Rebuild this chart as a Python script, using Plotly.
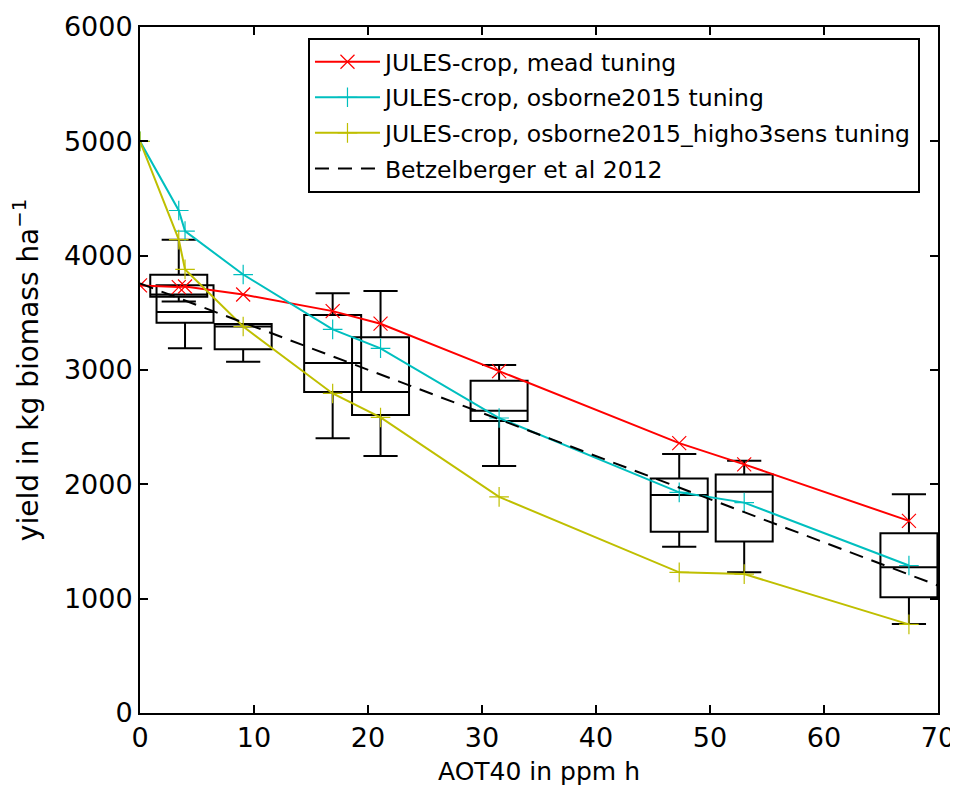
import plotly.graph_objects as go

# ---- data ----
model_x = [0, 3.4, 3.95, 9.05, 16.9, 21.1, 31.5, 47.3, 53.0, 67.45]
mead = [3740, 3725, 3730, 3660, 3515, 3405, 2990, 2360, 2175, 1680]
osborne = [5000, 4395, 4215, 3835, 3355, 3190, 2580, 1930, 1840, 1290]
higho3 = [5000, 4140, 3880, 3380, 2795, 2585, 1890, 1230, 1215, 775]

betz_x = [0, 70]
betz_y = [3757, 1115]

box_x = [3.4, 3.95, 9.05, 16.9, 21.1, 31.5, 47.3, 53.0, 67.45]
box_lf = [3600, 3190, 3073, 2403, 2248, 2160, 1455, 1230, 778]
box_q1 = [3640, 3414, 3181, 2808, 2606, 2554, 1586, 1499, 1012]
box_med = [3660, 3507, 3380, 3061, 2808, 2644, 1907, 1936, 1274]
box_q3 = [3834, 3741, 3402, 3481, 3286, 2907, 2050, 2085, 1572]
box_uf = [4140, 3741, 3402, 3671, 3691, 3044, 2265, 2207, 1913]

x_ticks = [0, 10, 20, 30, 40, 50, 60, 70]
y_ticks = [0, 1000, 2000, 3000, 4000, 5000, 6000]

FONT = "DejaVu Sans"

fig = go.Figure()

fig.add_trace(go.Box(
    x=box_x, q1=box_q1, median=box_med, q3=box_q3,
    lowerfence=box_lf, upperfence=box_uf,
    width=5, whiskerwidth=0.6, boxpoints=False,
    fillcolor="rgba(0,0,0,0)", line=dict(color="black", width=2),
    showlegend=False, hoverinfo="skip",
))

fig.add_trace(go.Scatter(
    x=model_x, y=mead, mode="lines+markers", name="JULES-crop, mead tuning",
    legendgroup="a",
    line=dict(color="#FF0000", width=2),
    marker=dict(symbol="x-thin", size=14, line=dict(color="#FF0000", width=1.2)),
))
fig.add_trace(go.Scatter(
    x=model_x, y=osborne, mode="lines+markers", name="JULES-crop, osborne2015 tuning",
    legendgroup="b",
    line=dict(color="#00BFBF", width=2),
    marker=dict(symbol="cross-thin", size=14, line=dict(color="#00BFBF", width=1.2)),
))
fig.add_trace(go.Scatter(
    x=model_x, y=higho3, mode="lines+markers",
    name="JULES-crop, osborne2015_higho3sens tuning",
    legendgroup="c",
    line=dict(color="#BFBF00", width=2),
    marker=dict(symbol="cross-thin", size=14, line=dict(color="#BFBF00", width=1.2)),
))
fig.add_trace(go.Scatter(
    x=betz_x, y=betz_y, mode="lines", name="Betzelberger et al 2012",
    legendgroup="d",
    line=dict(color="black", width=2, dash="14px,9px"),
))

axis_common = dict(
    showgrid=False, zeroline=False, showline=True, linecolor="black", linewidth=2,
    mirror="allticks", ticks="inside", ticklen=8, tickwidth=1.5, tickcolor="black",
    tickfont=dict(family=FONT, size=27, color="black"), automargin=False,
)

fig.update_layout(
    width=950, height=790,
    margin=dict(l=132, r=20, t=19, b=85),
    plot_bgcolor="white", paper_bgcolor="white",
    boxmode="overlay",
    xaxis=dict(range=[0, 70], tickvals=x_ticks,
               title=dict(text="AOT40 in ppm h", font=dict(family=FONT, size=25, color="black"), standoff=10),
               **axis_common),
    yaxis=dict(range=[0, 6000], tickvals=y_ticks,
               title=dict(text="yield in kg biomass ha<sup>−1</sup>", font=dict(family=FONT, size=28, color="black"), standoff=22),
               **axis_common),
    legend=dict(
        x=0.2105, y=0.984, xanchor="left", yanchor="top",
        bgcolor="white", bordercolor="black", borderwidth=2,
        font=dict(family=FONT, size=23.5, color="black"),
        tracegroupgap=2, itemwidth=65,
    ),
)

fig.write_html("out.html")
